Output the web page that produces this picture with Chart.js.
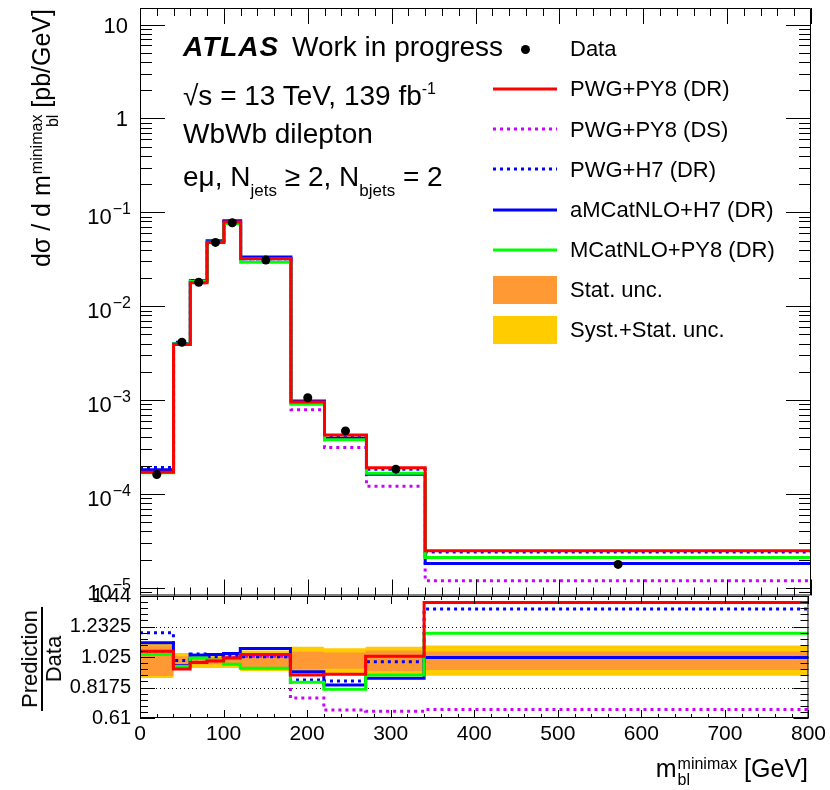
<!DOCTYPE html>
<html>
<head>
<meta charset="utf-8">
<script src="https://cdn.jsdelivr.net/npm/chart.js@4.4.1/dist/chart.umd.min.js"></script>
<style>
  html, body { margin: 0; padding: 0; background: #fff; }
  body { font-family: 'Liberation Sans', Arial, sans-serif; color: #000; }
  #wrap { position: relative; width: 830px; height: 790px; overflow: hidden; }
  canvas { position: absolute; left: 0; }
  #main { top: 0; }
  #ratio { top: 560px; }
  .txt { position: absolute; white-space: nowrap; }
  .big { font-size: 28px; line-height: 32px; }
  .sup { font-size: 16px; vertical-align: 11px; }
  .sub { font-size: 17px; vertical-align: -10px; }
  .ss { display: inline-flex; flex-direction: column; font-size: 16px; line-height: 16px; vertical-align: 8px; margin-left: 1px; }
  #ytitle { left: 26px; top: 309px; width: 300px; text-align: right; font-size: 25px; line-height: 30px;
            transform-origin: 0 0; transform: rotate(-90deg); }
  #xtitle { right: 22px; top: 753px; font-size: 25px; line-height: 30px; }
  #rtitle { position: absolute; left: 42px; top: 659px; transform: translate(-50%, -50%) rotate(-90deg);
            font-size: 22px; line-height: 22px; text-align: center; white-space: nowrap; }
  #rtitle .num { border-bottom: 2px solid #000; padding: 0 3px; }
  .lg { position: absolute; font-size: 22px; line-height: 24px; white-space: nowrap; }
</style>
</head>
<body>
<div id="wrap">
  <canvas id="main" width="830" height="600"></canvas>
  <canvas id="ratio" width="830" height="230"></canvas>

  <div class="txt big" style="left:183px;top:31px;font-weight:bold;font-style:italic;letter-spacing:1px">ATLAS</div>
  <div class="txt big" style="left:292px;top:31px">Work in progress</div>
  <div class="txt big" style="left:183px;top:73px">&radic;s = 13 TeV, 139 fb<span class="sup">-1</span></div>
  <div class="txt big" style="left:183px;top:118px">WbWb dilepton</div>
  <div class="txt big" style="left:183px;top:161px">e&mu;, N<span class="sub">jets</span> &ge; 2, N<span class="sub">bjets</span> = 2</div>

  <div id="ytitle" class="txt">d&sigma; / d m<span class="ss"><span>minimax</span><span>bl</span></span> [pb/GeV]</div>
  <div id="xtitle" class="txt">m<span class="ss"><span>minimax</span><span>bl</span></span> [GeV]</div>
  <div id="rtitle"><div class="num">Prediction</div><div class="den">Data</div></div>
  <div id="legend"></div>
</div>

<script>
const FONT = "'Liberation Sans', Arial, sans-serif";

// bins of m_bl^minimax [GeV]
const binEdges = [0, 40, 60, 80, 100, 120, 180, 220, 270, 340, 800];

// dsigma / dm [pb/GeV]
const dataXsec = [1.61e-4, 4.13e-3, 1.80e-2, 4.78e-2, 7.75e-2, 3.10e-2, 1.06e-3, 4.70e-4, 1.84e-4, 1.78e-5];
const pwgPy8DR = [1.71e-4, 3.90e-3, 1.78e-2, 4.77e-2, 7.90e-2, 3.23e-2, 9.57e-4, 4.26e-4, 1.90e-4, 2.48e-5];
const pwgPy8DS = [1.71e-4, 3.92e-3, 1.78e-2, 4.78e-2, 7.90e-2, 3.19e-2, 7.91e-4, 3.13e-4, 1.21e-4, 1.19e-5];
const pwgH7DR  = [1.92e-4, 4.13e-3, 1.88e-2, 4.90e-2, 7.97e-2, 3.18e-2, 9.21e-4, 4.05e-4, 1.83e-4, 2.41e-5];
const amcH7DR  = [1.81e-4, 3.99e-3, 1.87e-2, 4.98e-2, 8.13e-2, 3.35e-2, 9.81e-4, 3.93e-4, 1.62e-4, 1.82e-5];
const mcPy8DR  = [1.68e-4, 3.97e-3, 1.83e-2, 4.79e-2, 7.56e-2, 2.94e-2, 9.04e-4, 3.79e-4, 1.66e-4, 2.11e-5];

// prediction / data
const ratioPwgPy8DR = [1.064, 0.943, 0.988, 0.997, 1.019, 1.042, 0.903, 0.907, 1.030, 1.396];
const ratioPwgPy8DS = [1.060, 0.950, 0.990, 1.000, 1.020, 1.030, 0.746, 0.665, 0.656, 0.667];
const ratioPwgH7DR  = [1.190, 1.001, 1.046, 1.026, 1.028, 1.026, 0.869, 0.862, 0.992, 1.351];
const ratioAmcH7DR  = [1.122, 0.965, 1.037, 1.042, 1.049, 1.082, 0.925, 0.835, 0.880, 1.022];
const ratioMcPy8DR  = [1.044, 0.960, 1.019, 1.003, 0.975, 0.948, 0.853, 0.806, 0.903, 1.187];

// relative uncertainties on data
const statUnc = [0.104, 0.030, 0.025, 0.025, 0.030, 0.050, 0.060, 0.055, 0.070, 0.063];
const totUnc  = [0.118, 0.052, 0.050, 0.050, 0.050, 0.070, 0.095, 0.085, 0.095, 0.103];

// axis ticks
const ratioTickLabels = [0.61, 0.8175, 1.025, 1.2325, 1.44];
const ratioRefLines = [0.8175, 1.025, 1.2325];

const series = [
  { label: 'PWG+PY8 (DR)',     color: '#ff0000', dash: [],     z: 1, main: pwgPy8DR, ratio: ratioPwgPy8DR },
  { label: 'PWG+PY8 (DS)',     color: '#cc00ff', dash: [3, 4], z: 5, main: pwgPy8DS, ratio: ratioPwgPy8DS },
  { label: 'PWG+H7 (DR)',      color: '#0000ff', dash: [3, 4], z: 4, main: pwgH7DR,  ratio: ratioPwgH7DR },
  { label: 'aMCatNLO+H7 (DR)', color: '#0000ff', dash: [],     z: 3, main: amcH7DR,  ratio: ratioAmcH7DR },
  { label: 'MCatNLO+PY8 (DR)', color: '#00ff00', dash: [],     z: 2, main: mcPy8DR,  ratio: ratioMcPy8DR },
];
const statColor = '#ff9933';
const totColor = '#ffcc00';

// histogram -> points for a stepped line
function stepPoints(values) {
  const pts = values.map((v, i) => ({ x: binEdges[i], y: v }));
  pts.push({ x: binEdges[binEdges.length - 1], y: values[values.length - 1] });
  return pts;
}

function histSet(s, values) {
  return {
    label: s.label, data: stepPoints(values), stepped: true,
    borderColor: s.color, borderWidth: 3, borderDash: s.dash, borderCapStyle: 'butt',
    pointRadius: 0, fill: false, order: s.z
  };
}

function bandSet(values, color, order, fill) {
  return {
    data: stepPoints(values), stepped: true, borderColor: 'transparent', borderWidth: 0,
    pointRadius: 0, backgroundColor: color, fill: fill ? '-1' : false, order: order
  };
}

const logKind = v => {
  const e = Math.floor(Math.log10(v) + 1e-9);
  const m = v / Math.pow(10, e);
  if (Math.abs(m - Math.round(m)) > 1e-6) return null;
  return Math.round(m) === 1 ? 'major' : 'minor';
};
const ratioKind = v => ratioTickLabels.some(l => Math.abs(l - v) < 1e-6) ? 'major' : 'minor';

// ROOT-like frame: inward ticks on all four sides
function rootAxes(cfg) {
  return {
    id: 'rootAxes',
    beforeDatasetsDraw(chart) {
      if (!cfg.refLines) return;
      const { ctx, chartArea: a, scales: { y } } = chart;
      ctx.save();
      ctx.strokeStyle = '#000';
      ctx.lineWidth = 1;
      ctx.setLineDash([1, 3]);
      for (const v of cfg.refLines) {
        const py = Math.round(y.getPixelForValue(v)) + 0.5;
        ctx.beginPath();
        ctx.moveTo(a.left, py);
        ctx.lineTo(a.right, py);
        ctx.stroke();
      }
      ctx.restore();
    },
    afterDatasetsDraw(chart) {
      const { ctx, chartArea: a, scales: { x, y } } = chart;
      ctx.save();
      ctx.strokeStyle = '#000';
      ctx.lineWidth = 1;
      ctx.beginPath();
      ctx.rect(a.left + 0.5, a.top + 0.5, a.right - a.left - 1, a.bottom - a.top - 1);
      for (const t of x.ticks) {
        const px = Math.round(x.getPixelForValue(t.value)) + 0.5;
        const len = t.value % 100 === 0 ? cfg.xMajor : cfg.xMinor;
        ctx.moveTo(px, a.bottom); ctx.lineTo(px, a.bottom - len);
        ctx.moveTo(px, a.top); ctx.lineTo(px, a.top + len);
      }
      for (const t of y.ticks) {
        const kind = cfg.yKind(t.value);
        if (!kind) continue;
        const py = Math.round(y.getPixelForValue(t.value)) + 0.5;
        const len = kind === 'major' ? cfg.yMajor : cfg.yMinor;
        ctx.moveTo(a.left, py); ctx.lineTo(a.left + len, py);
        ctx.moveTo(a.right, py); ctx.lineTo(a.right - len, py);
      }
      ctx.stroke();

      if (cfg.logLabels) {
        ctx.fillStyle = '#000';
        ctx.textAlign = 'right';
        ctx.textBaseline = 'alphabetic';
        const right = a.left - 10;
        for (const t of y.ticks) {
          if (cfg.yKind(t.value) !== 'major') continue;
          const py = y.getPixelForValue(t.value);
          const e = Math.round(Math.log10(t.value));
          ctx.font = `22px ${FONT}`;
          if (e === 0 || e === 1) {
            ctx.fillText(e === 0 ? '1' : '10', right - 2, py + 8);
          } else {
            ctx.font = `16px ${FONT}`;
            const ex = '\u2212' + (-e);
            const w = ctx.measureText(ex).width;
            ctx.fillText(ex, right + 1, py + 2);
            ctx.font = `22px ${FONT}`;
            ctx.fillText('10', right - w, py + 12);
          }
        }
      }
      ctx.restore();
    }
  };
}

const dataPoints = dataXsec.map((v, i) => ({ x: (binEdges[i] + binEdges[i + 1]) / 2, y: v }));

new Chart(document.getElementById('main'), {
  type: 'line',
  data: {
    datasets: [
      { label: 'Data', data: dataPoints, showLine: false, pointRadius: 4.5,
        pointBackgroundColor: '#000', pointBorderWidth: 0, order: 0 },
      ...series.map(s => histSet(s, s.main))
    ]
  },
  options: {
    responsive: false, animation: false, devicePixelRatio: 1, events: [],
    layout: { padding: { left: 140, right: 19, top: 8, bottom: 4 } },
    plugins: { legend: { display: false }, tooltip: { enabled: false } },
    scales: {
      x: { type: 'linear', min: 0, max: 800, display: false, ticks: { stepSize: 20, autoSkip: false } },
      y: { type: 'logarithmic', min: 8.3e-6, max: 15, display: false, ticks: { autoSkip: false } }
    }
  },
  plugins: [rootAxes({ xMajor: 16, xMinor: 8, yMajor: 25, yMinor: 12, yKind: logKind, logLabels: true })]
});

new Chart(document.getElementById('ratio'), {
  type: 'line',
  data: {
    datasets: [
      bandSet(totUnc.map(u => 1 - u), totColor, 10, false),
      bandSet(totUnc.map(u => 1 + u), totColor, 10, true),
      bandSet(statUnc.map(u => 1 - u), statColor, 9, false),
      bandSet(statUnc.map(u => 1 + u), statColor, 9, true),
      ...series.map(s => histSet(s, s.ratio))
    ]
  },
  options: {
    responsive: false, animation: false, devicePixelRatio: 1, events: [],
    layout: { padding: { left: 0, right: 19, top: 36, bottom: 0 } },
    plugins: { legend: { display: false }, tooltip: { enabled: false } },
    scales: {
      x: {
        type: 'linear', min: 0, max: 800,
        afterFit: s => { s.height = 72; },
        grid: { display: false, drawTicks: false }, border: { display: false },
        ticks: { stepSize: 20, autoSkip: false, maxRotation: 0, padding: 4, color: '#000',
                 font: { family: FONT, size: 21 },
                 callback: v => v % 100 === 0 ? String(v) : '' }
      },
      y: {
        min: 0.61, max: 1.44,
        afterFit: s => { s.width = 140; },
        grid: { display: false, drawTicks: false }, border: { display: false },
        ticks: { stepSize: 0.0415, autoSkip: false, padding: 9, color: '#000',
                 font: { family: FONT, size: 20 },
                 callback: v => {
                   const l = ratioTickLabels.find(t => Math.abs(t - v) < 1e-6);
                   return l === undefined ? '' : String(l);
                 } }
      }
    }
  },
  plugins: [rootAxes({ xMajor: 8, xMinor: 4, yMajor: 15, yMinor: 8, yKind: ratioKind, refLines: ratioRefLines })]
});

// legend
const legendRows = [
  { label: 'Data', kind: 'marker' },
  ...series.map(s => ({ label: s.label, kind: 'line', color: s.color, dash: s.dash })),
  { label: 'Stat. unc.', kind: 'box', color: statColor },
  { label: 'Syst.+Stat. unc.', kind: 'box', color: totColor }
];
const legend = document.getElementById('legend');
legendRows.forEach((r, i) => {
  const c = 49 + 40.15 * i;
  let sym;
  if (r.kind === 'marker') {
    sym = `<div style="position:absolute;left:521px;top:${c - 4.5}px;width:9px;height:9px;border-radius:50%;background:#000"></div>`;
  } else if (r.kind === 'line') {
    sym = `<svg style="position:absolute;left:493px;top:${c - 3}px" width="64" height="6">` +
          `<line x1="0" y1="3" x2="64" y2="3" stroke="${r.color}" stroke-width="3" stroke-dasharray="${r.dash.join(' ') || 'none'}"/></svg>`;
  } else {
    sym = `<div style="position:absolute;left:493px;top:${c - 14}px;width:64px;height:28px;background:${r.color}"></div>`;
  }
  legend.insertAdjacentHTML('beforeend', sym + `<div class="lg" style="left:570px;top:${c - 11.7}px">${r.label}</div>`);
});
</script>
</body>
</html>
